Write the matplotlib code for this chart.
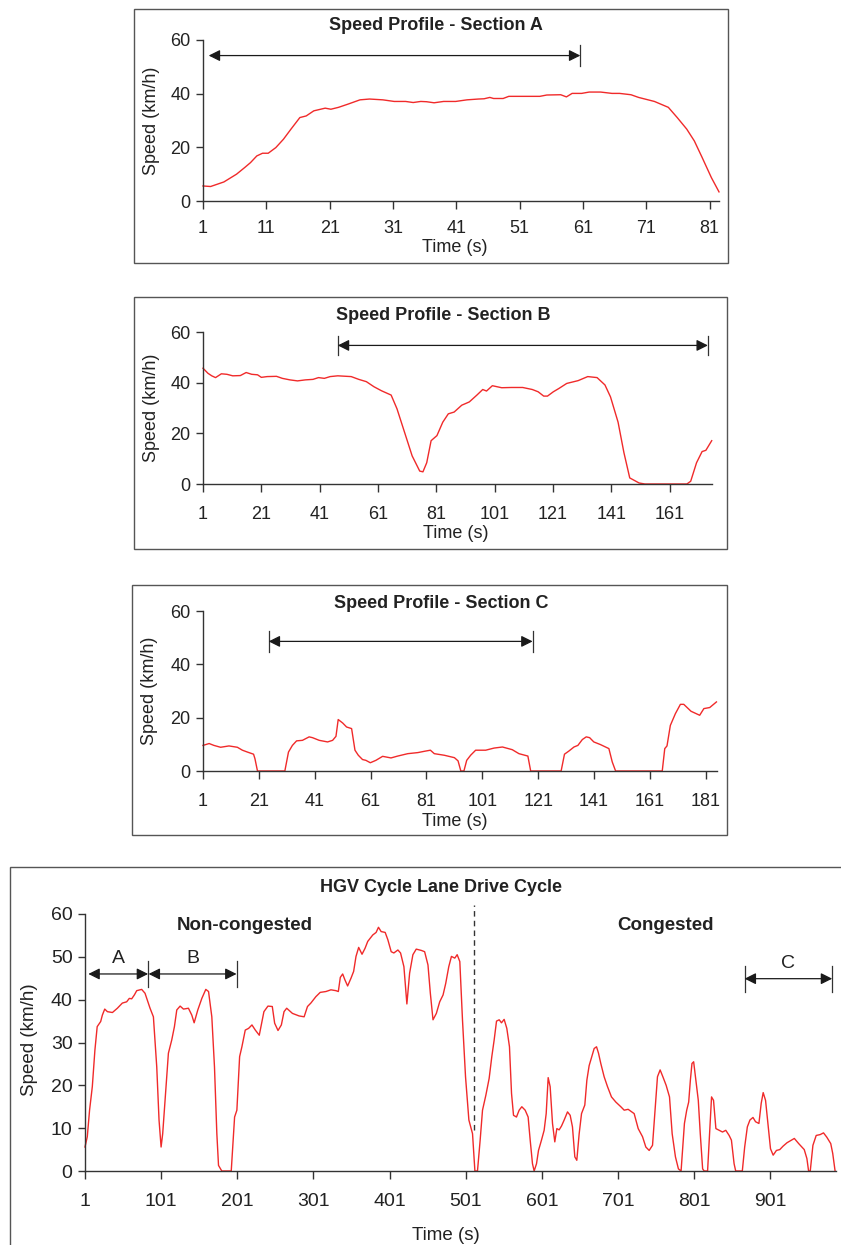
"""
Speed profiles of the HGV cycle lane drive cycle: three section close-ups
(A, B, C) stacked above the full drive cycle.
"""

import matplotlib
matplotlib.use("Agg")
import matplotlib.pyplot as plt
from matplotlib.patches import Rectangle

plt.rcParams["font.family"] = ["Liberation Sans", "DejaVu Sans"]

# ---------------------------------------------------------------------------
# Data
# ---------------------------------------------------------------------------

A_TIME = [1, 2.2, 4.3, 6.3, 7.6, 8.5, 9.5, 10.4, 11.3, 12.5,
          13.7, 14.9, 16.3, 17.3, 18.5, 20.3, 21.2, 22.4, 23.9, 25.8,
          27.3, 29.4, 31.2, 33, 34.2, 35.4, 36.3, 37.5, 39, 40.9,
          42.7, 44.5, 45.4, 46.3, 46.9, 48.4, 49.3, 54.2, 55.3, 57.5,
          58.4, 59.3, 60.8, 62, 63.8, 65.6, 66.8, 68.6, 69.8, 72.3,
          74.5, 75.9, 77.4, 78.6, 79.8, 81.3, 82.5]
A_SPEED = [5.6, 5.4, 7.1, 10, 12.5, 14.3, 16.8, 17.8, 17.8, 19.9,
           23, 26.8, 31.1, 31.7, 33.6, 34.6, 34.2, 34.9, 36.1, 37.7,
           38, 37.7, 37.1, 37.1, 36.7, 37.1, 37, 36.6, 37.1, 37.1,
           37.7, 38, 38.1, 38.6, 38.2, 38.2, 39, 39, 39.5, 39.6,
           38.8, 40.1, 40.1, 40.6, 40.6, 40.1, 40.1, 39.6, 38.6, 37.1,
           34.9, 31.1, 26.8, 22.4, 16.4, 8.7, 3.4]

B_TIME = [1, 2.7, 4, 5.3, 7.3, 9.2, 11.2, 13.8, 15.8, 17.7,
          19.7, 21, 23, 26.2, 28.2, 30.8, 33.4, 36.1, 38.7, 40.6,
          42.6, 44.6, 47.2, 51.8, 54.4, 57, 59.6, 62.2, 65.5, 67.5,
          70.1, 72.7, 75.3, 76.4, 77.7, 79.2, 81.2, 83.2, 85.1, 87.1,
          89.7, 92.3, 94.9, 96.9, 98.2, 100.2, 103.4, 106.7, 110.6, 113.9,
          115.9, 117.8, 119.1, 121.1, 123, 125.7, 129.6, 132.9, 136.1, 138.8,
          140.7, 143.3, 145.3, 147.3, 150.5, 152.5, 166.9, 168.2, 170.2, 172.1,
          173.4, 175.4]
B_SPEED = [45.7, 43.7, 42.7, 42, 43.5, 43.3, 42.7, 42.8, 44, 43.3,
           43.1, 42.1, 42.4, 42.5, 41.7, 41.1, 40.7, 41.1, 41.3, 42,
           41.7, 42.4, 42.7, 42.4, 41.3, 40.4, 38.4, 36.8, 35.1, 29.7,
           20.4, 11.1, 5.1, 4.8, 8.4, 17.1, 19.1, 24.4, 27.7, 28.4,
           31.1, 32.4, 35.1, 37.3, 36.7, 38.8, 38, 38.1, 38.1, 37.3,
           36.4, 34.7, 34.7, 36.4, 37.7, 39.7, 40.8, 42.4, 42, 39.1,
           34.4, 24.4, 12.4, 2.4, 0.4, 0, 0, 1.1, 8.4, 12.8,
           13.3, 17.1]

C_TIME = [1, 3.2, 4.9, 7.3, 10.3, 13.3, 15.1, 16.9, 19.1, 19.6,
          20.5, 30.3, 31.6, 33, 34.5, 36.6, 39, 40.2, 42.6, 45.6,
          47.4, 48.6, 49.4, 51, 52.4, 54.2, 55.4, 56.6, 58.1, 59.3,
          60.9, 62.9, 65.3, 68.3, 70.7, 74.3, 77.9, 80.3, 82.4, 83.8,
          87.4, 91, 92.3, 93.3, 94.4, 95.4, 96.8, 98.6, 102.2, 105.2,
          108.2, 111.7, 114.1, 117.3, 118.3, 129.2, 130.4, 132, 133.8, 135.2,
          136.8, 138.2, 139.4, 140.9, 143.3, 146.3, 147.5, 148.7, 165.4, 166.3,
          167.1, 168.3, 170.1, 171.9, 173.1, 175.7, 178.8, 180.3, 182.4, 184.8]
C_SPEED = [9.6, 10.3, 9.6, 8.9, 9.4, 8.9, 7.8, 7.1, 6.3, 4.6,
           0, 0, 7.1, 9.6, 11.3, 11.5, 12.8, 12.5, 11.5, 10.9,
           11.5, 13, 19.3, 18, 16.5, 15.9, 7.8, 5.9, 4.3, 4,
           3.1, 4, 5.5, 4.9, 5.6, 6.5, 6.9, 7.4, 7.8, 6.5,
           5.9, 5, 3.8, 0, 0, 4, 5.9, 7.8, 7.8, 8.6,
           9, 8, 6.5, 5.6, 0, 0, 6.3, 7.5, 9, 9.6,
           11.8, 12.8, 12.5, 10.9, 9.9, 8.4, 3.4, 0, 0, 8.4,
           9.4, 17.1, 21.5, 25, 25, 22.4, 20.9, 23.4, 23.8, 25.9]

CYCLE_TIME = [1, 4, 7, 10.6, 14, 17, 21.6, 23.8, 26.9, 30.4,
              37, 43.5, 50, 55.7, 59.2, 62.3, 65.8, 68.9, 75.4, 79.8,
              86.4, 90.8, 95.2, 98.2, 100.9, 103, 106.1, 110.5, 114.9, 118.4,
              121.5, 125.9, 130.3, 136.8, 141.2, 144.3, 149.1, 154.4, 159.6, 163.2,
              167.5, 171, 174.1, 176.3, 180.6, 193, 197.4, 200.4, 204, 207,
              211.4, 215.8, 220.2, 224.6, 229.8, 235.9, 241.2, 246.9, 250, 254.4,
              258.8, 262.3, 265.8, 273.3, 282.1, 288.7, 293.1, 297.5, 304.1, 309.8,
              317.3, 323.9, 330.5, 333.6, 336.2, 339.3, 342.3, 345.8, 350.2, 353.7,
              356.8, 360.3, 364.7, 368.7, 372.2, 378.8, 383.2, 386.3, 389.8, 395.1,
              398.6, 403, 406.5, 411.8, 415.3, 419.7, 423.6, 427.2, 431.5, 435.9,
              442.5, 446.9, 451.3, 454.4, 457.9, 462.3, 466.7, 471.1, 474.6, 478.6,
              482.1, 486.5, 489.6, 493.1, 496.6, 500.6, 505, 509.8, 512.9, 516.3,
              519.8, 522.9, 527.3, 531.6, 535.1, 538.2, 541.3, 544.8, 547.8, 551.3,
              554.8, 558.3, 561, 563.6, 567.5, 571, 574.5, 578.9, 582.8, 585.5,
              588.5, 590.7, 593.8, 596.4, 600.3, 603.8, 606.5, 609.1, 611.7, 614.8,
              617.8, 620.5, 623.5, 626.6, 630.1, 634.5, 638, 641, 644.1, 646.7,
              649.8, 652.9, 657.2, 659.9, 662.9, 666.4, 669.5, 672.6, 675.2, 678.2,
              682.6, 687, 692.2, 697.9, 704.5, 708.9, 714.1, 722, 727.3, 733,
              737.3, 741.7, 746.1, 749.1, 752.6, 756.1, 759.7, 764, 768.4, 771.9,
              776.2, 780.1, 783.6, 785.8, 788, 791, 793.6, 795.8, 797.9, 800.1,
              802.3, 806.2, 808.8, 811.9, 814, 818.4, 820.6, 823.6, 826.2, 829.3,
              833.6, 838, 842.3, 846.7, 849.7, 853.2, 855.3, 864, 867.1, 870.6,
              874, 878, 881.4, 885.8, 888.8, 891.4, 894.5, 898, 901, 904.5,
              908.8, 913.2, 917.5, 922.7, 929.3, 932.3, 938, 945.3, 948.8, 951,
              953.2, 956.7, 961, 966.2, 970.6, 974.9, 980.1, 982.7, 985.8]
CYCLE_SPEED = [5.6, 8, 14.2, 19.7, 28.2, 33.7, 34.9, 36.4, 37.8, 37.2,
               37, 38, 39.2, 39.5, 40.3, 40.2, 41.1, 42.1, 42.4, 41.5,
               38, 36, 24.3, 11.9, 5.6, 8.7, 16.5, 27.5, 30.6, 33.7,
               37.6, 38.5, 37.8, 38, 36.4, 34.6, 37.6, 40.3, 42.4, 41.9,
               36, 24.3, 8.7, 1.3, 0, 0, 12.6, 14.2, 26.7, 29,
               32.9, 33.3, 34.1, 32.9, 31.7, 37.2, 38.5, 38.4, 34.5, 32.8,
               34.1, 37.2, 38, 36.8, 36.2, 36, 38.4, 39.2, 40.7, 41.7,
               41.9, 42.3, 42.1, 41.9, 45.2, 46, 44.6, 43.2, 45, 46.6,
               50.1, 52.2, 50.6, 52, 53.6, 55.1, 55.7, 56.9, 55.9, 55.7,
               54, 51.2, 50.9, 51.6, 50.9, 47.7, 39, 46.2, 50.5, 51.8,
               51.5, 51.2, 48.1, 41.5, 35.3, 36.8, 39.5, 41.1, 43.8, 47.7,
               50.1, 49.7, 50.5, 48.9, 35.3, 22, 11.9, 8.7, 0, 0,
               7.2, 14.2, 17.7, 21.6, 26.7, 30.6, 35, 35.3, 34.6, 35.4,
               33.3, 29, 18.1, 13, 12.6, 14.2, 15, 14.2, 12.6, 7.2,
               1.7, 0, 1.7, 4.8, 7.2, 9.5, 13.4, 21.8, 19.7, 11.1,
               6.8, 9.9, 9.6, 10.5, 11.9, 13.8, 13, 10.3, 3.3, 2.5,
               8.7, 13.4, 15.4, 21.2, 24.6, 26.7, 28.6, 29, 27.5, 25.1,
               22, 19.7, 17.3, 16.1, 15, 14.2, 14.4, 13.4, 9.9, 8,
               5.6, 4.8, 6, 13.4, 22, 23.6, 22, 20, 17.3, 8.7,
               3.3, 0.5, 0, 5.6, 11.1, 14.2, 16.1, 21.2, 25.1, 25.5,
               22.3, 16.5, 8.7, 0.5, 0, 0, 7.2, 17.3, 16.5, 9.9,
               9.5, 9.1, 9.5, 8.3, 7.2, 1.7, 0, 0, 5.6, 10.3,
               11.9, 12.5, 11.5, 11.1, 15.8, 18.3, 16.5, 10.3, 5.2, 3.7,
               4.8, 5, 5.8, 6.6, 7.3, 7.6, 6.4, 5, 2.9, 0,
               0, 6, 8.3, 8.5, 8.9, 7.9, 6.4, 4.1, 0]

A_TICKS = [1, 11, 21, 31, 41, 51, 61, 71, 81]
B_TICKS = [1, 21, 41, 61, 81, 101, 121, 141, 161]
C_TICKS = [1, 21, 41, 61, 81, 101, 121, 141, 161, 181]
CYCLE_TICKS = [1, 101, 201, 301, 401, 501, 601, 701, 801, 901]

# Section spans marked by double arrows: (start, end, height)
A_SPAN = (1.9, 61.4, 54.2)
B_SPAN = (47.2, 174.1, 54.7)
C_SPAN = (24.5, 119.0, 48.6)
CYCLE_SPANS = {"A": (5.4, 83.9, 46.0), "B": (84.5, 200.0, 46.0),
               "C": (867.0, 982.0, 44.9)}
CONGESTION_SPLIT = 512

W, H = 841, 1245
RED = "#f02a2a"
AXIS = "#333333"

fig = plt.figure(figsize=(W / 100, H / 100), dpi=100)
fig.patch.set_facecolor("white")


def axes_px(left, top, right, bottom):
    return fig.add_axes([left / W, 1 - bottom / H, (right - left) / W,
                         (bottom - top) / H])


def frame_px(left, top, right, bottom):
    fig.add_artist(Rectangle((left / W, 1 - bottom / H), (right - left) / W,
                             (bottom - top) / H, transform=fig.transFigure,
                             fill=False, ec="#555555", lw=1.0))


def text_px(x, y, s, **kw):
    fig.text(x / W, 1 - y / H, s, ha="center", va="center", **kw)


def style(ax, xticks, yticks, xlim, ylim, xpad):
    for side in ("top", "right"):
        ax.spines[side].set_visible(False)
    for side in ("left", "bottom"):
        ax.spines[side].set_color(AXIS)
        ax.spines[side].set_linewidth(1.0)
    ax.set_xlim(*xlim)
    ax.set_ylim(*ylim)
    ax.set_xticks(xticks)
    ax.set_yticks(yticks)
    ax.tick_params(axis="x", length=6, width=1, color=AXIS, labelsize=13,
                   pad=xpad, labelcolor="#222222")
    ax.tick_params(axis="y", length=5, width=1, color=AXIS, labelsize=13,
                   pad=4, labelcolor="#222222")
    ax.patch.set_alpha(0)


def span_arrow(ax, start, end, y, bars=(False, True), bar_h=3.8):
    ax.annotate("", xy=(end, y), xytext=(start, y),
                arrowprops=dict(arrowstyle="<|-|>", color="#1a1a1a", lw=0.9,
                                mutation_scale=17, shrinkA=0, shrinkB=0),
                annotation_clip=False)
    for flag, x in zip(bars, (start, end)):
        if flag:
            ax.plot([x, x], [y - bar_h, y + bar_h], color="#333333", lw=0.9,
                    clip_on=False)


# ---------------------------------------------------------------------------
# Section A
# ---------------------------------------------------------------------------
frame_px(134, 9, 728, 263)
ax_a = axes_px(203, 40, 719, 201)
ax_a.plot(A_TIME, A_SPEED, color=RED, lw=1.0, clip_on=False)
style(ax_a, A_TICKS, [0, 20, 40, 60], (1, 82.5), (0, 60), 8)
span_arrow(ax_a, A_SPAN[0], A_SPAN[1] - 0.8, A_SPAN[2])
text_px(436, 25, "Speed Profile - Section A", fontsize=13, fontweight="bold",
        color="#222222")
text_px(152, 121, "Speed (km/h)", fontsize=13, rotation=90, color="#222222")
text_px(455, 248, "Time (s)", fontsize=13, color="#222222")

# ---------------------------------------------------------------------------
# Section B
# ---------------------------------------------------------------------------
frame_px(134, 297, 727, 549)
ax_b = axes_px(203, 332, 712, 484)
ax_b.plot(B_TIME, B_SPEED, color=RED, lw=1.0, clip_on=False)
style(ax_b, B_TICKS, [0, 20, 40, 60], (1, 175.5), (0, 60), 10)
span_arrow(ax_b, B_SPAN[0], B_SPAN[1], B_SPAN[2], bars=(True, True))
text_px(443, 316, "Speed Profile - Section B", fontsize=13, fontweight="bold",
        color="#222222")
text_px(152, 408, "Speed (km/h)", fontsize=13, rotation=90, color="#222222")
text_px(456, 534, "Time (s)", fontsize=13, color="#222222")

# ---------------------------------------------------------------------------
# Section C
# ---------------------------------------------------------------------------
frame_px(132, 585, 727, 835)
ax_c = axes_px(203, 611, 717, 771)
ax_c.plot(C_TIME, C_SPEED, color=RED, lw=1.0, clip_on=False)
style(ax_c, C_TICKS, [0, 20, 40, 60], (1, 185), (0, 60), 10)
span_arrow(ax_c, C_SPAN[0], C_SPAN[1], C_SPAN[2], bars=(True, True))
text_px(441, 603, "Speed Profile - Section C", fontsize=13, fontweight="bold",
        color="#222222")
text_px(150, 691, "Speed (km/h)", fontsize=13, rotation=90, color="#222222")
text_px(455, 822, "Time (s)", fontsize=13, color="#222222")

# ---------------------------------------------------------------------------
# Full drive cycle
# ---------------------------------------------------------------------------
frame_px(10, 867, 860, 1260)
ax_d = axes_px(85, 914, 836, 1171)
ax_d.plot(CYCLE_TIME, CYCLE_SPEED, color=RED, lw=1.0, clip_on=False)
style(ax_d, CYCLE_TICKS, [0, 10, 20, 30, 40, 50, 60], (1, 987), (0, 60), 10)
ax_d.tick_params(labelsize=14)
ax_d.plot([CONGESTION_SPLIT, CONGESTION_SPLIT], [9.5, 62], color="#333333",
          lw=1.0, ls=(0, (4, 3)), clip_on=False)
span_arrow(ax_d, *CYCLE_SPANS["A"], bars=(False, True), bar_h=3.0)
span_arrow(ax_d, *CYCLE_SPANS["B"], bars=(False, True), bar_h=3.0)
span_arrow(ax_d, *CYCLE_SPANS["C"], bars=(True, True), bar_h=3.0)
for name, (s, e, y) in CYCLE_SPANS.items():
    ax_d.text((s + e) / 2, y + 1.6, name, ha="center", va="bottom",
              fontsize=14, color="#222222")
text_px(245, 926, "Non-congested", fontsize=13.5, fontweight="bold",
        color="#222222")
text_px(666, 926, "Congested", fontsize=13.5, fontweight="bold",
        color="#222222")
text_px(441, 887, "HGV Cycle Lane Drive Cycle", fontsize=13,
        fontweight="bold", color="#222222")
text_px(30, 1040, "Speed (km/h)", fontsize=13.5, rotation=90, color="#222222")
text_px(446, 1235, "Time (s)", fontsize=13.5, color="#222222")

fig.savefig("out.png", dpi=100)
